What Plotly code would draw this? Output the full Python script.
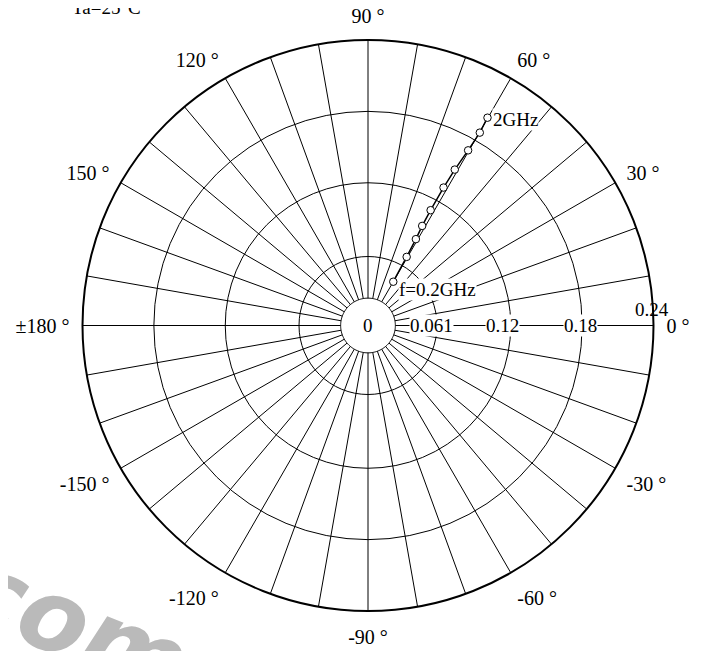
import numpy as np
import plotly.graph_objects as go

# ---- data ----
freq_ghz = [0.2, 0.4, 0.6, 0.8, 1.0, 1.2, 1.4, 1.6, 1.8, 2.0]
mag = [0.0425, 0.0662, 0.083, 0.0953, 0.1103, 0.1322, 0.150, 0.1696, 0.1874, 0.2015]
ang_deg = [60.0, 60.6, 61.0, 61.45, 61.5, 61.3, 60.9, 60.25, 59.9, 60.1]

r_max = 0.24
radial_ticks = [0.058, 0.12, 0.18, 0.24]
radial_labels = ["0.061", "0.12", "0.18", "0.24"]
angle_grid = list(range(0, 360, 10))
angle_label_map = {0: "0 °", 30: "30 °", 60: "60 °", 90: "90 °", 120: "120 °",
                   150: "150 °", 180: "±180 °", 210: "-150 °", 240: "-120 °",
                   270: "-90 °", 300: "-60 °", 330: "-30 °"}
angle_text = [angle_label_map.get(a, "") for a in angle_grid]
hole_r = 0.023
title_text = "Ta=25°C"

FONT = "Liberation Serif"

fig = go.Figure()

# centre disc covering the converging spokes
theta_c = np.linspace(0, 360, 181)
fig.add_trace(go.Scatterpolar(
    r=[hole_r] * len(theta_c), theta=theta_c, mode="lines",
    fill="toself", fillcolor="white",
    line=dict(color="black", width=1), hoverinfo="skip"))

# data curve
fig.add_trace(go.Scatterpolar(
    r=mag, theta=ang_deg, mode="lines+markers",
    line=dict(color="black", width=1.5),
    marker=dict(symbol="circle", size=7.5, color="white",
                line=dict(color="black", width=1))))

def to_paper(r, th):
    t = np.deg2rad(th)
    return 0.5 + 0.5 * r / r_max * np.cos(t), 0.5 + 0.5 * r / r_max * np.sin(t)

ann = []
# radial labels on the 0 deg spoke
lab_shift = [-6, -9, -2, 0]
for v, txt, sh in zip(radial_ticks, radial_labels, lab_shift):
    x, y = to_paper(v, 0)
    if txt == "0.24":
        ann.append(dict(x=x, y=y, xref="paper", yref="paper", text=txt,
                        showarrow=False, xanchor="center", yanchor="bottom",
                        xshift=-2, yshift=4, font=dict(family=FONT, size=19, color="black")))
    else:
        ann.append(dict(x=x, y=y, xref="paper", yref="paper", text=txt,
                        showarrow=False, xanchor="center", yanchor="middle",
                        xshift=sh, bgcolor="white", borderpad=0,
                        font=dict(family=FONT, size=19, color="black")))
# centre label
ann.append(dict(x=0.5, y=0.5, xref="paper", yref="paper", text="0", showarrow=False,
                xanchor="center", yanchor="middle",
                font=dict(family=FONT, size=19, color="black")))
# frequency labels
x0, y0 = to_paper(mag[0], ang_deg[0])
ann.append(dict(x=x0, y=y0, xref="paper", yref="paper", text="f=%.1fGHz" % freq_ghz[0],
                showarrow=False, xanchor="left", yanchor="middle", xshift=5, yshift=-8,
                bgcolor="white", borderpad=0, font=dict(family=FONT, size=19, color="black")))
x1, y1 = to_paper(mag[-1], ang_deg[-1])
ann.append(dict(x=x1, y=y1, xref="paper", yref="paper", text="%dGHz" % round(freq_ghz[-1]),
                showarrow=False, xanchor="left", yanchor="middle", xshift=4, yshift=-2,
                bgcolor="white", borderpad=0, font=dict(family=FONT, size=19, color="black")))
# title (cut off at top)
ann.append(dict(x=0.0437, y=1.057, xref="paper", yref="paper", text=title_text,
                showarrow=False, xanchor="center", yanchor="middle",
                font=dict(family=FONT, size=19, color="black")))
# watermark fragment
ann.append(dict(x=-0.01, y=-0.025, xref="paper", yref="paper", text="<b><i>com</i></b>",
                showarrow=False, xanchor="center", yanchor="middle", textangle=22,
                font=dict(family="DejaVu Sans", size=100, color="#bababa")))

fig.update_layout(
    width=711, height=651,
    margin=dict(l=74, r=65, t=31.5, b=47.5),
    paper_bgcolor="white", plot_bgcolor="white",
    showlegend=False,
    annotations=ann,
    polar=dict(
        domain=dict(x=[0, 1], y=[0, 1]),
        bgcolor="white",
        radialaxis=dict(range=[0, r_max], tickvals=radial_ticks, showticklabels=False,
                        ticks="", showline=False, gridcolor="black", gridwidth=1),
        angularaxis=dict(rotation=0, direction="counterclockwise",
                         tickvals=angle_grid, ticktext=angle_text,
                         ticks="outside", ticklen=8, tickcolor="rgba(0,0,0,0)",
                         showline=True, linecolor="black", linewidth=2,
                         gridcolor="black", gridwidth=1,
                         tickfont=dict(family=FONT, size=20, color="black")),
    ),
)

fig.write_html("out.html")
